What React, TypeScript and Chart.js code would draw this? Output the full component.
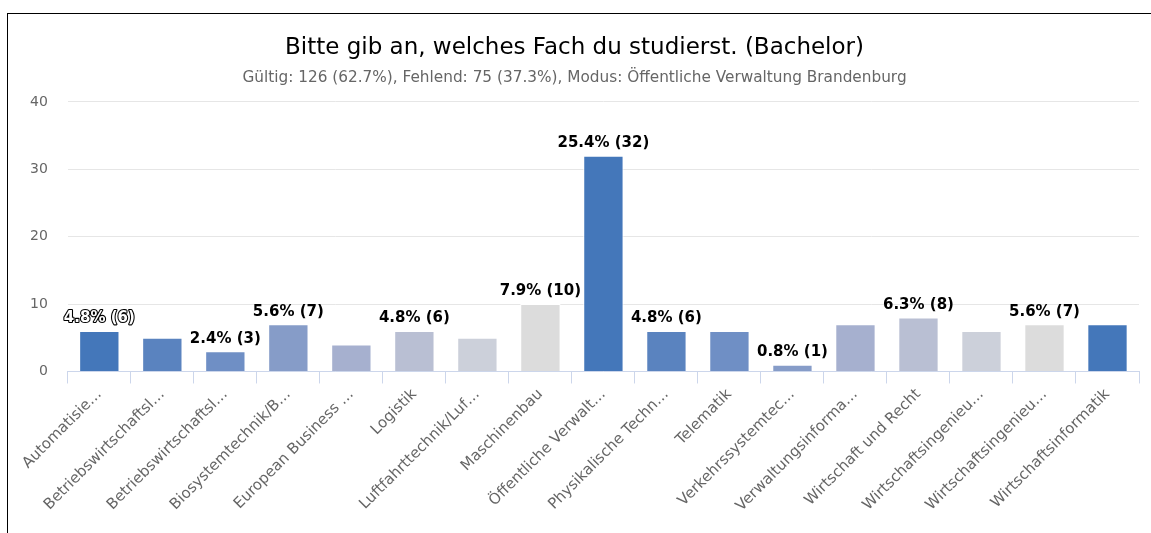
import React, { useEffect, useRef } from "react";
import { Chart, registerables } from "chart.js";

Chart.register(...registerables);

const categories = [
  "Automatisie…",
  "Betriebswirtschaftsl…",
  "Betriebswirtschaftsl…",
  "Biosystemtechnik/B…",
  "European Business …",
  "Logistik",
  "Luftfahrttechnik/Luf…",
  "Maschinenbau",
  "Öffentliche Verwalt…",
  "Physikalische Techn…",
  "Telematik",
  "Verkehrssystemtec…",
  "Verwaltungsinforma…",
  "Wirtschaft und Recht",
  "Wirtschaftsingenieu…",
  "Wirtschaftsingenieu…",
  "Wirtschaftsinformatik",
];

const counts = [6, 5, 3, 7, 4, 6, 5, 10, 32, 6, 6, 1, 7, 8, 6, 7, 7];

const labelShown = [
  true, false, true, true, false, true, false, true, true,
  true, false, true, false, true, false, true, false,
];

const palette = [
  "#4477BA",
  "#5A83BF",
  "#6F8FC5",
  "#869CC8",
  "#A6B0CF",
  "#B9BFD3",
  "#CCD0DA",
  "#DCDCDC",
];

const yTicks = [0, 10, 20, 30, 40];

const titleText = "Bitte gib an, welches Fach du studierst. (Bachelor)";
const subtitleText =
  "Gültig: 126 (62.7%), Fehlend: 75 (37.3%), Modus: Öffentliche Verwaltung Brandenburg";

const FONT = "'DejaVu Sans', sans-serif";

const total = counts.reduce((a, b) => a + b, 0);

const valueLabelPlugin = {
  id: "valueLabels",
  afterDatasetsDraw(chart: any) {
    const ctx = chart.ctx;
    const meta = chart.getDatasetMeta(0);
    ctx.save();
    ctx.font = `bold 15px ${FONT}`;
    ctx.textAlign = "center";
    ctx.textBaseline = "bottom";
    meta.data.forEach((bar: any, i: number) => {
      if (!labelShown[i]) return;
      const v = counts[i];
      const text = `${((v / total) * 100).toFixed(1)}% (${v})`;
      const x = bar.x;
      const y = bar.y - 5;
      if (i === 0) {
        ctx.lineJoin = "round";
        ctx.lineWidth = 2.2;
        ctx.strokeStyle = "#000";
        ctx.strokeText(text, x, y);
        ctx.fillStyle = "#fff";
        ctx.fillText(text, x, y);
      } else {
        ctx.fillStyle = "#000";
        ctx.fillText(text, x, y);
      }
    });
    ctx.restore();
  },
};

export default function App() {
  const ref = useRef<HTMLCanvasElement | null>(null);
  useEffect(() => {
    if (!ref.current) return;
    const chart = new Chart(ref.current, {
      type: "bar",
      data: {
        labels: categories,
        datasets: [
          {
            data: counts,
            backgroundColor: counts.map((_, i) => palette[i % palette.length]),
            borderColor: "#ffffff",
            borderWidth: 1,
            categoryPercentage: 1,
            barPercentage: 0.64,
          },
        ],
      },
      options: {
        animation: false,
        responsive: true,
        maintainAspectRatio: false,
        layout: { padding: { top: 14, left: 2, right: 13, bottom: 16 } },
        plugins: {
          legend: { display: false },
          tooltip: { enabled: false },
          title: {
            display: true,
            text: titleText,
            color: "#000",
            font: { family: FONT, size: 23, weight: "normal" },
            padding: { top: 6, bottom: 3 },
          },
          subtitle: {
            display: true,
            text: subtitleText,
            color: "#666",
            font: { family: FONT, size: 15.3 },
            padding: { top: 4, bottom: 15 },
          },
        },
        scales: {
          x: {
            afterFit: (axis: any) => {
              axis.paddingLeft = 0;
              axis.paddingRight = 0;
            },
            grid: {
              offset: true,
              drawOnChartArea: false,
              tickLength: 12,
              color: "#ccd6eb",
            },
            border: { color: "#ccd6eb" },
            ticks: {
              color: "#666",
              font: { family: FONT, size: 15 },
              maxRotation: 45,
              minRotation: 45,
              autoSkip: false,
              padding: 2,
            },
          },
          y: {
            min: 0,
            max: 40,
            afterBuildTicks: (axis: any) => {
              axis.ticks = yTicks.map((v) => ({ value: v }));
            },
            grid: { color: "#e6e6e6", drawTicks: false },
            border: { display: false },
            ticks: {
              color: "#666",
              font: { family: FONT, size: 14 },
              padding: 20,
            },
          },
        },
      },
      plugins: [valueLabelPlugin],
    });
    return () => chart.destroy();
  }, []);

  return (
    <div
      style={{
        position: "fixed",
        left: 7,
        top: 13,
        width: 1180,
        height: 560,
        border: "1px solid #000",
        background: "#fff",
      }}
    >
      <div style={{ position: "relative", width: 1144, height: 519 }}>
        <canvas ref={ref} />
      </div>
    </div>
  );
}
